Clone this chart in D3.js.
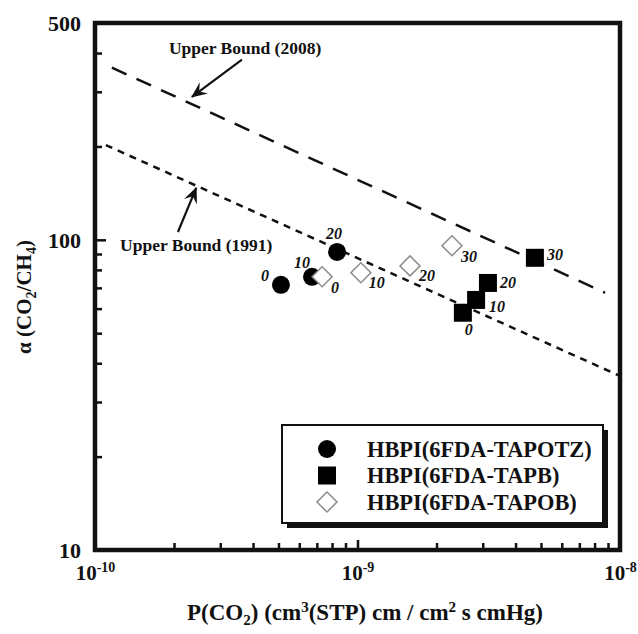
<!DOCTYPE html>
<html>
<head>
<meta charset="utf-8">
<script src="https://cdn.jsdelivr.net/npm/d3@7"></script>
<style>
  body { margin: 0; background: #fff; }
</style>
</head>
<body>
<svg id="chart" width="638" height="634"></svg>
<script>
// data: P(CO2) and alpha(CO2/CH4), with loading labels
const tapotzP = [5.11e-10, 6.71e-10, 8.36e-10]
const tapotzA = [71.6, 76.0, 91.4]
const tapotzLab = ['0', '10', '20']

const tapbP = [2.52e-9, 2.83e-9, 3.14e-9, 4.74e-9]
const tapbA = [58.2, 64.0, 72.6, 87.5]
const tapbLab = ['0', '10', '20', '30']

const tapobP = [7.33e-10, 1.03e-9, 1.585e-9, 2.29e-9]
const tapobA = [76.0, 78.3, 82.4, 95.7]
const tapobLab = ['0', '10', '20', '30']

// upper bound lines (end points)
const bound2008 = [[1.16e-10, 359], [8.77e-9, 67.5]]
const bound1991 = [[1.10e-10, 202], [1e-8, 36.4]]

const seriesNames = ['HBPI(6FDA-TAPOTZ)', 'HBPI(6FDA-TAPB)', 'HBPI(6FDA-TAPOB)']
const xTicks = [1e-10, 1e-9, 1e-8]
const yTicks = [10, 100, 500]

const FONT = '"Liberation Serif", "Times New Roman", Times, "DejaVu Serif", serif'

const svg = d3.select('#chart')
  .attr('font-family', FONT)
  .attr('font-weight', 'bold')
const margin = { top: 23, right: 18, bottom: 84, left: 95 }
const width = 638 - margin.left - margin.right
const height = 634 - margin.top - margin.bottom

const x = d3.scaleLog().domain([1e-10, 1e-8]).range([0, width])
const y = d3.scaleLog().domain([10, 500]).range([height, 0])

const g = svg.append('g').attr('transform', `translate(${margin.left},${margin.top})`)

// all minor + major ticks
const xAll = []
for (let e = -10; e < -8; e++) for (let m = 1; m < 10; m++) xAll.push(m * Math.pow(10, e))
xAll.push(1e-8)
const yAll = []
for (let m = 1; m < 10; m++) yAll.push(m * 10)
for (let m = 1; m <= 5; m++) yAll.push(m * 100)

// y axis (ticks pointing inward)
const gy = g.append('g')
  .call(d3.axisLeft(y).tickValues(yAll).tickSize(-7).tickFormat(''))
gy.attr('font-family', FONT)
gy.select('.domain').remove()
gy.selectAll('.tick line')
  .attr('x2', d => (yTicks.includes(d) ? 11 : 7))
  .attr('stroke', '#111')
  .attr('stroke-width', 2.5)
gy.selectAll('.tick')
  .filter(d => yTicks.includes(d))
  .append('text')
  .attr('x', -14)
  .attr('dy', '0.35em')
  .attr('text-anchor', 'end')
  .attr('font-size', 22)
  .attr('fill', '#111')
  .text(d => d)

// x axis
const gx = g.append('g')
  .attr('transform', `translate(0,${height})`)
  .call(d3.axisBottom(x).tickValues(xAll).tickSize(-7).tickFormat(''))
gx.attr('font-family', FONT)
gx.select('.domain').remove()
gx.selectAll('.tick line')
  .attr('y2', d => (xTicks.some(t => Math.abs(t - d) / t < 1e-6) ? -10 : -7))
  .attr('stroke', '#111')
  .attr('stroke-width', 2.5)
const xl = gx.selectAll('.tick')
  .filter(d => xTicks.some(t => Math.abs(t - d) / t < 1e-6))
  .append('text')
  .attr('y', 30)
  .attr('text-anchor', 'middle')
  .attr('font-size', 21)
  .attr('fill', '#111')
xl.append('tspan').text('10')
xl.append('tspan')
  .attr('dy', -8)
  .attr('font-size', 14)
  .text(d => Math.round(Math.log10(d)))

// frame
g.append('rect')
  .attr('width', width)
  .attr('height', height)
  .attr('fill', 'none')
  .attr('stroke', '#111')
  .attr('stroke-width', 4.5)

// upper bound lines
const line = d3.line().x(d => x(d[0])).y(d => y(d[1]))
g.append('path')
  .datum(bound2008)
  .attr('d', line)
  .attr('fill', 'none')
  .attr('stroke', '#111')
  .attr('stroke-width', 2.5)
  .attr('stroke-dasharray', '16,11')
g.append('path')
  .datum(bound1991)
  .attr('d', line)
  .attr('fill', 'none')
  .attr('stroke', '#111')
  .attr('stroke-width', 2.5)
  .attr('stroke-dasharray', '7,6')

// annotations
svg.append('defs').append('marker')
  .attr('id', 'arrow')
  .attr('viewBox', '0 0 16 14')
  .attr('refX', 15)
  .attr('refY', 7)
  .attr('markerWidth', 16)
  .attr('markerHeight', 14)
  .attr('markerUnits', 'userSpaceOnUse')
  .attr('orient', 'auto')
  .append('path')
  .attr('d', 'M0,0 L16,7 L0,14 L6,7 Z')
  .attr('fill', '#111')

const notes = [
  { text: 'Upper Bound (2008)', at: [3.73e-10, 416], from: [3.63e-10, 381], to: [2.34e-10, 289] },
  { text: 'Upper Bound (1991)', at: [2.43e-10, 96.4], from: [2.07e-10, 106], to: [2.43e-10, 147] },
]
notes.forEach(n => {
  g.append('text')
    .attr('x', x(n.at[0]))
    .attr('y', y(n.at[1]))
    .attr('dy', '0.35em')
    .attr('text-anchor', 'middle')
    .attr('font-size', 17.5)
    .attr('fill', '#111')
    .text(n.text)
  g.append('line')
    .attr('x1', x(n.from[0]))
    .attr('y1', y(n.from[1]))
    .attr('x2', x(n.to[0]))
    .attr('y2', y(n.to[1]))
    .attr('stroke', '#111')
    .attr('stroke-width', 2.2)
    .attr('marker-end', 'url(#arrow)')
})

// points
const symCircle = d3.symbol(d3.symbolCircle, 254)
const symSquare = d3.symbol(d3.symbolSquare, 324)
const symDiamond = d3.symbol(d3.symbolSquare, 200)

const pts = (P, A, L) => P.map((p, i) => ({ p, a: A[i], lab: L[i] }))

const labelOffsets = {
  tapotz: [[-16, -9], [-10, -14], [-3, -19]],
  tapb: [[6, 17], [21, 6], [20, -1], [20, -3]],
  tapob: [[13, 11], [16, 10], [17, 10], [17, 11]],
}

g.selectAll('.tapotz')
  .data(pts(tapotzP, tapotzA, tapotzLab))
  .enter()
  .append('path')
  .attr('class', 'tapotz')
  .attr('d', symCircle)
  .attr('transform', d => `translate(${x(d.p)},${y(d.a)})`)
  .attr('fill', '#000')

g.selectAll('.tapb')
  .data(pts(tapbP, tapbA, tapbLab))
  .enter()
  .append('path')
  .attr('class', 'tapb')
  .attr('d', symSquare)
  .attr('transform', d => `translate(${x(d.p)},${y(d.a)})`)
  .attr('fill', '#000')

g.selectAll('.tapob')
  .data(pts(tapobP, tapobA, tapobLab))
  .enter()
  .append('path')
  .attr('class', 'tapob')
  .attr('d', symDiamond)
  .attr('transform', d => `translate(${x(d.p)},${y(d.a)}) rotate(45)`)
  .attr('fill', '#fff')
  .attr('stroke', '#8c8c8c')
  .attr('stroke-width', 1.5)

// point labels
const addLabels = (key, data) => {
  g.selectAll('.lab-' + key)
    .data(data)
    .enter()
    .append('text')
    .attr('class', 'lab-' + key)
    .attr('x', (d, i) => x(d.p) + labelOffsets[key][i][0])
    .attr('y', (d, i) => y(d.a) + labelOffsets[key][i][1])
    .attr('dy', '0.35em')
    .attr('text-anchor', 'middle')
    .attr('font-size', 16)
    .attr('font-style', 'italic')
    .attr('fill', '#111')
    .text(d => d.lab)
}
addLabels('tapotz', pts(tapotzP, tapotzA, tapotzLab))
addLabels('tapb', pts(tapbP, tapbA, tapbLab))
addLabels('tapob', pts(tapobP, tapobA, tapobLab))

// legend
const legend = svg.append('g').attr('transform', 'translate(282,425)')
legend.append('rect')
  .attr('x', 5).attr('y', 5)
  .attr('width', 321).attr('height', 98)
  .attr('fill', '#111')
legend.append('rect')
  .attr('width', 321).attr('height', 98)
  .attr('fill', '#fff')
  .attr('stroke', '#111')
  .attr('stroke-width', 2)

const legendSyms = [
  { sym: symCircle, fill: '#000', stroke: 'none', rot: 0 },
  { sym: symSquare, fill: '#000', stroke: 'none', rot: 0 },
  { sym: symDiamond, fill: '#fff', stroke: '#8c8c8c', rot: 45 },
]
seriesNames.forEach((name, i) => {
  const row = legend.append('g').attr('transform', `translate(0,${24 + i * 26.5})`)
  row.append('path')
    .attr('d', legendSyms[i].sym)
    .attr('transform', `translate(45,0) rotate(${legendSyms[i].rot})`)
    .attr('fill', legendSyms[i].fill)
    .attr('stroke', legendSyms[i].stroke)
    .attr('stroke-width', 1.5)
  row.append('text')
    .attr('x', 85)
    .attr('dy', '0.35em')
    .attr('font-size', 22.4)
    .attr('fill', '#111')
    .text(name)
})

// axis titles
const yt = svg.append('text')
  .attr('transform', 'translate(31,297) rotate(-90)')
  .attr('text-anchor', 'middle')
  .attr('font-size', 21)
  .attr('fill', '#111')
yt.append('tspan').text('α (CO')
yt.append('tspan').attr('dy', 5).attr('font-size', 14).text('2')
yt.append('tspan').attr('dy', -5).text('/CH')
yt.append('tspan').attr('dy', 5).attr('font-size', 14).text('4')
yt.append('tspan').attr('dy', -5).text(')')

const xt = svg.append('text')
  .attr('x', 365)
  .attr('y', 620)
  .attr('text-anchor', 'middle')
  .attr('font-size', 23)
  .attr('fill', '#111')
xt.append('tspan').text('P(CO')
xt.append('tspan').attr('dy', 5).attr('font-size', 15).text('2')
xt.append('tspan').attr('dy', -5).text(') (cm')
xt.append('tspan').attr('dy', -8).attr('font-size', 15).text('3')
xt.append('tspan').attr('dy', 8).text('(STP) cm / cm')
xt.append('tspan').attr('dy', -8).attr('font-size', 15).text('2')
xt.append('tspan').attr('dy', 8).text(' s cmHg)')
</script>
</body>
</html>
